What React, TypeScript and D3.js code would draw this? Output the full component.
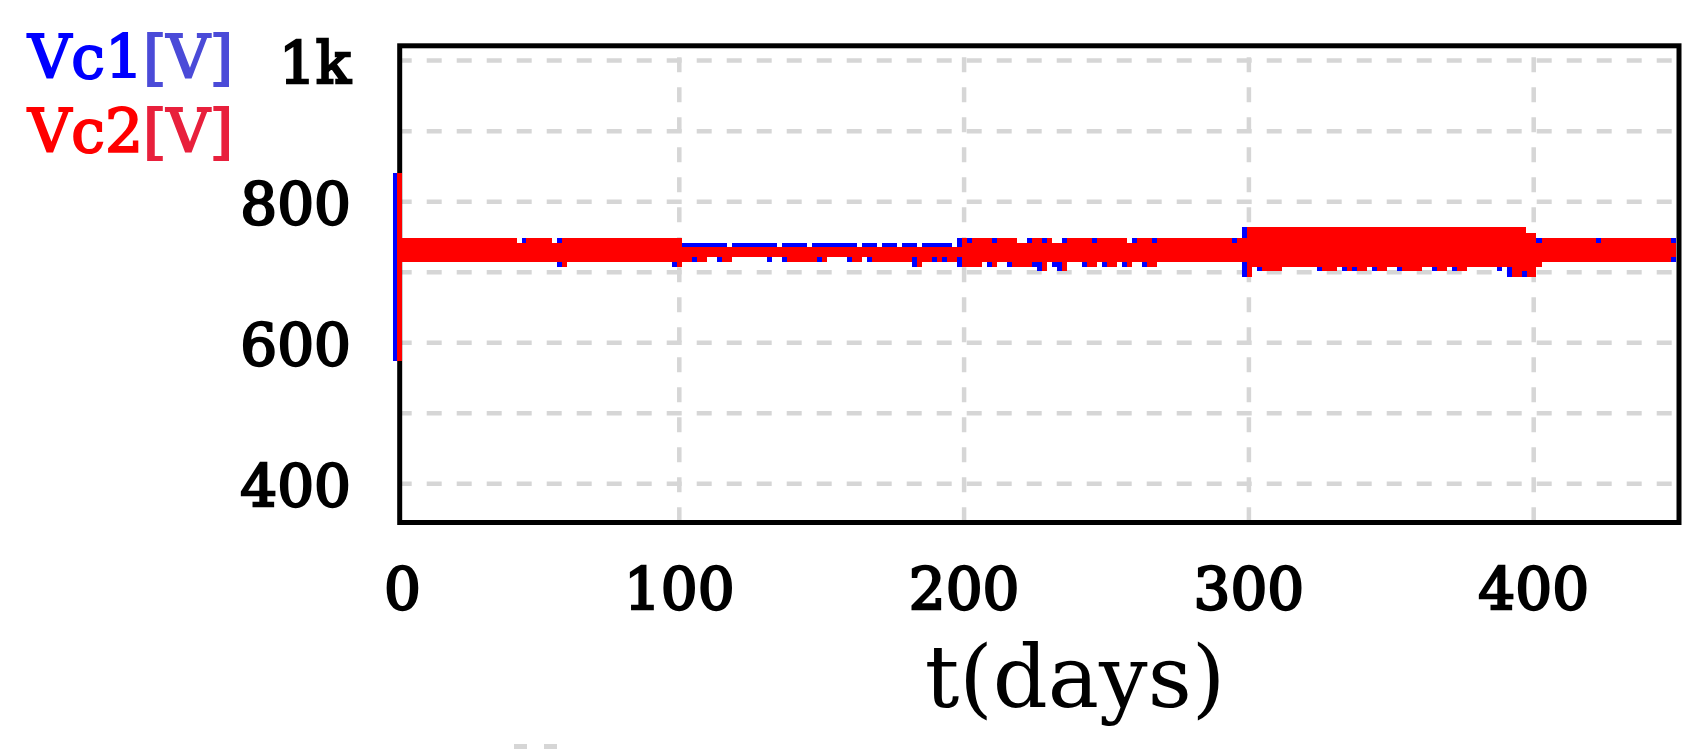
import React, { useEffect, useRef } from 'react';
import * as d3 from 'd3';

const W = 1708;
const H = 753;

// axis values
const xTicks = [0, 100, 200, 300, 400];
const xTickLabels = ['0', '100', '200', '300', '400'];
const yGrid = [400, 500, 600, 700, 800, 900, 1000];
const yTicks = [400, 600, 800, 1000];
const yTickLabels = ['400', '600', '800', '1k'];
const xTitle = 't(days)';

// envelope of each trace: [day, volts], value holds until the next point
const vc1Upper = [
  [-0.6, 841], [0.8, 749], [43.0, 742], [44.9, 749], [55.3, 742], [57.1, 749],
  [100.9, 742], [116.6, 736], [118.4, 742], [134.2, 736], [136.2, 742], [144.7, 736],
  [146.5, 742], [162.3, 736], [164.3, 742], [169.3, 736], [171.3, 742], [176.3, 736],
  [178.3, 742], [183.4, 736], [185.3, 742], [195.6, 736], [197.4, 749], [218.5, 742],
  [222.0, 749], [230.8, 742], [234.3, 749], [257.1, 742], [258.9, 749], [297.5, 764],
  [397.3, 756], [400.8, 749], [450, 749],
];
const vc1Lower = [
  [-0.6, 574], [0.8, 715], [57.1, 708], [58.8, 715], [97.4, 708], [100.9, 715],
  [109.6, 721], [113.1, 715], [118.4, 721], [130.7, 715], [132.4, 721], [136.0, 715],
  [151.8, 721], [158.8, 715], [164.0, 721], [165.8, 715], [181.6, 708], [185.1, 715],
  [197.4, 708], [206.2, 715], [207.9, 708], [211.4, 715], [215.0, 708], [225.5, 701],
  [229.0, 715], [230.8, 708], [232.5, 701], [236.0, 715], [241.3, 708], [246.6, 715],
  [248.3, 708], [253.6, 715], [255.3, 708], [258.9, 715], [262.4, 708], [267.6, 715],
  [297.5, 693], [301.0, 708], [302.7, 701], [311.5, 708], [323.8, 701], [330.8, 708],
  [332.6, 701], [341.4, 708], [343.1, 701], [348.4, 708], [351.9, 701], [360.7, 708],
  [364.2, 701], [369.5, 708], [371.2, 701], [376.5, 708], [387.0, 701], [388.8, 708],
  [390.5, 693], [400.8, 708], [402.8, 715], [448.2, 715], [450, 715],
];
const vc2Upper = [
  [0.8, 841], [2.7, 749], [43.0, 742], [46.3, 749], [55.3, 742], [58.8, 749],
  [100.9, 736], [199.2, 749], [200.9, 742], [202.7, 749], [209.7, 742], [211.4, 749],
  [218.5, 742], [223.7, 749], [227.2, 742], [229.0, 749], [230.8, 742], [236.0, 749],
  [244.8, 742], [246.6, 749], [257.1, 742], [260.6, 749], [265.9, 742], [267.6, 749],
  [294.0, 742], [295.7, 749], [299.2, 764], [397.3, 756], [400.8, 742], [402.8, 749],
  [421.9, 742], [423.7, 749], [448.2, 742], [450, 742],
];
const vc2Lower = [
  [0.8, 574], [2.7, 715], [58.8, 708], [60.5, 715], [99.2, 708], [100.9, 715],
  [104.3, 721], [106.1, 715], [109.6, 721], [114.9, 715], [118.4, 721], [137.7, 715],
  [148.2, 721], [150.0, 715], [151.8, 721], [160.5, 715], [164.0, 721], [167.6, 715],
  [181.6, 721], [183.4, 708], [185.1, 715], [188.6, 721], [190.4, 715], [192.2, 721],
  [193.9, 715], [197.4, 721], [199.2, 708], [206.2, 715], [209.7, 708], [211.4, 715],
  [216.7, 708], [223.7, 715], [227.2, 701], [229.0, 715], [234.3, 701], [236.0, 715],
  [243.0, 708], [246.6, 715], [250.1, 708], [253.6, 715], [257.1, 708], [258.9, 715],
  [264.1, 708], [267.6, 715], [299.2, 693], [301.0, 708], [304.5, 701], [311.5, 708],
  [325.6, 701], [330.8, 708], [334.4, 701], [336.1, 708], [337.9, 701], [341.4, 708],
  [344.9, 701], [348.4, 708], [353.7, 701], [360.7, 708], [366.0, 701], [369.5, 708],
  [373.0, 701], [376.5, 708], [392.3, 693], [395.8, 701], [397.5, 693], [400.8, 708],
  [402.8, 715], [448.2, 721], [450, 721],
];

// merge an upper and lower step edge into rows for d3.area
function band(upper: number[][], lower: number[][]) {
  const times = Array.from(new Set([...upper, ...lower].map(d => d[0]))).sort((a, b) => a - b);
  const valueAt = (s: number[][], t: number) => {
    let v = s[0][1];
    for (const d of s) {
      if (d[0] <= t) v = d[1];
      else break;
    }
    return v;
  };
  return times.map(t => ({ t, hi: valueAt(upper, t), lo: valueAt(lower, t) }));
}

const App = () => {
  const svgRef = useRef<SVGSVGElement>(null);

  useEffect(() => {
    const svg = d3.select(svgRef.current);
    svg.selectAll('*').remove();

    const frame = { left: 399.7, right: 1679, top: 45.8, bottom: 522.5 };

    const x = d3.scaleLinear().domain([0, 450]).range([394.5, 1676.1]);
    const y = d3.scaleLinear().domain([345, 1021]).range([frame.bottom, frame.top]);

    const gridColor = '#d6d6d6';

    // horizontal dashed grid
    svg.append('g')
      .selectAll('line')
      .data(yGrid)
      .enter()
      .append('line')
      .attr('x1', frame.left)
      .attr('x2', frame.right - 4)
      .attr('y1', d => y(d))
      .attr('y2', d => y(d))
      .attr('stroke', gridColor)
      .attr('stroke-width', 4.5)
      .attr('stroke-dasharray', '15 15')
      .attr('stroke-dashoffset', 3);

    // vertical dashed grid
    svg.append('g')
      .selectAll('line')
      .data(xTicks.filter(d => d > 0))
      .enter()
      .append('line')
      .attr('x1', d => x(d))
      .attr('x2', d => x(d))
      .attr('y1', frame.top)
      .attr('y2', frame.bottom)
      .attr('stroke', gridColor)
      .attr('stroke-width', 4.5)
      .attr('stroke-dasharray', '15 15')
      .attr('stroke-dashoffset', 18.5);

    // plot frame
    svg.append('rect')
      .attr('x', frame.left)
      .attr('y', frame.top)
      .attr('width', frame.right - frame.left)
      .attr('height', frame.bottom - frame.top)
      .attr('fill', 'none')
      .attr('stroke', '#000')
      .attr('stroke-width', 5);

    const area = d3.area<{ t: number; hi: number; lo: number }>()
      .x(d => x(d.t))
      .y0(d => y(d.lo))
      .y1(d => y(d.hi))
      .curve(d3.curveStepAfter);

    // Vc1 first, Vc2 drawn over it
    svg.append('path')
      .attr('d', area(band(vc1Upper, vc1Lower)))
      .attr('fill', '#0000ff')
      .attr('shape-rendering', 'crispEdges');

    svg.append('path')
      .attr('d', area(band(vc2Upper, vc2Lower)))
      .attr('fill', '#ff0000')
      .attr('shape-rendering', 'crispEdges');

    const font = 'DejaVu Serif';

    // y tick labels
    svg.append('g')
      .selectAll('text')
      .data(yTicks)
      .enter()
      .append('text')
      .attr('x', 351)
      .attr('y', d => y(d) + 22)
      .attr('text-anchor', 'end')
      .attr('font-family', font)
      .attr('font-size', 58)
      .attr('fill', '#000')
      .attr('stroke', '#000')
      .attr('stroke-width', 2.4)
      .text((d, i) => yTickLabels[i]);

    // x tick labels
    svg.append('g')
      .selectAll('text')
      .data(xTicks)
      .enter()
      .append('text')
      .attr('x', d => x(d) + (d === 0 ? 8 : 0))
      .attr('y', 609)
      .attr('text-anchor', 'middle')
      .attr('font-family', font)
      .attr('font-size', 58)
      .attr('fill', '#000')
      .attr('stroke', '#000')
      .attr('stroke-width', 2.4)
      .text((d, i) => xTickLabels[i]);

    // axis title
    svg.append('text')
      .attr('x', 1075)
      .attr('y', 707)
      .attr('text-anchor', 'middle')
      .attr('font-family', font)
      .attr('font-size', 86)
      .attr('fill', '#000')
      .text(xTitle);

    // legend names at top left
    const legend = [
      { name: 'Vc1', unit: '[V]', color: '#0000ff', unitColor: '#4b4bd8', y: 78 },
      { name: 'Vc2', unit: '[V]', color: '#ff0000', unitColor: '#e8203c', y: 152 },
    ];
    const lt = svg.append('g')
      .selectAll('text')
      .data(legend)
      .enter()
      .append('text')
      .attr('x', 28)
      .attr('y', d => d.y)
      .attr('font-family', font)
      .attr('font-size', 60);
    lt.append('tspan')
      .attr('fill', d => d.color)
      .attr('stroke', d => d.color)
      .attr('stroke-width', 2)
      .text(d => d.name);
    lt.append('tspan')
      .attr('fill', d => d.unitColor)
      .attr('stroke', d => d.unitColor)
      .attr('stroke-width', 2)
      .text(d => d.unit);

    // two stray grid dashes under the title
    svg.append('g')
      .selectAll('rect')
      .data([514, 544])
      .enter()
      .append('rect')
      .attr('x', d => d)
      .attr('y', 744)
      .attr('width', 13)
      .attr('height', 5)
      .attr('fill', gridColor);
  }, []);

  return (
    <svg
      ref={svgRef}
      width={W}
      height={H}
      style={{ position: 'absolute', left: 0, top: 0, background: '#fff' }}
    />
  );
};

export default App;
